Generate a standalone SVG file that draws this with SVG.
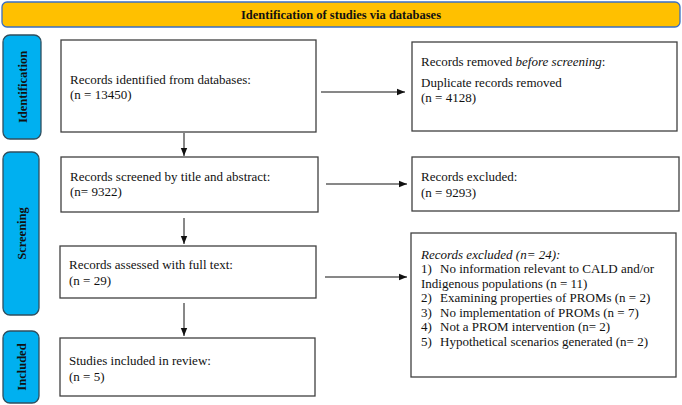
<svg xmlns="http://www.w3.org/2000/svg" width="682" height="405" viewBox="0 0 682 405">
<style>
.box{fill:#fff;stroke:#404040;stroke-width:1.3}
.bar{fill:#00B0F0;stroke:#2F4F5F;stroke-width:1.3}
.t{font-family:"Liberation Serif","Times New Roman",serif;font-size:13px;fill:#111}
.it{font-style:italic}
.b{font-family:"Liberation Serif","Times New Roman",serif;font-size:12.5px;font-weight:bold;fill:#111}
.c{stroke:#111;stroke-width:1;fill:none;marker-end:url(#ah)}
</style>
<defs>
<marker id="ah" markerUnits="userSpaceOnUse" markerWidth="8" markerHeight="8" viewBox="0 0 8 8" refX="8" refY="4" orient="auto">
<path d="M0,0.8 L8,4 L0,7.2 Z" fill="#111"/>
</marker>
</defs>
<g id="header">
<rect x="2" y="2" width="678" height="25" rx="5" fill="#FFC000" stroke="#3A6FC4" stroke-width="1.3"/>
<text class="b" x="341" y="19" text-anchor="middle">Identification of studies via databases</text>
</g>
<g id="phase-identification">
<rect class="bar" x="3" y="35" width="38" height="104" rx="7"/>
<text class="b" transform="translate(26.5,87) rotate(-90)" text-anchor="middle">Identification</text>
</g>
<g id="phase-screening">
<rect class="bar" x="3" y="152" width="36" height="163" rx="7"/>
<text class="b" transform="translate(25.5,233.5) rotate(-90)" text-anchor="middle">Screening</text>
</g>
<g id="phase-included">
<rect class="bar" x="3" y="331" width="36" height="72" rx="7"/>
<text class="b" transform="translate(25.5,367) rotate(-90)" text-anchor="middle">Included</text>
</g>
<g id="identified">
<rect class="box" x="61" y="40" width="255" height="92"/>
<text class="t" x="70" y="84">Records identified from databases:</text>
<text class="t" x="70" y="99">(n = 13450)</text>
</g>
<g id="removed">
<rect class="box" x="412" y="42" width="265" height="89"/>
<text class="t" x="421" y="66">Records removed <tspan class="it">before screening</tspan>:</text>
<text class="t" x="421" y="86.5">Duplicate records removed</text>
<text class="t" x="421" y="101.5">(n = 4128)</text>
</g>
<g id="screened">
<rect class="box" x="61" y="157" width="257" height="55"/>
<text class="t" x="70" y="181">Records screened by title and abstract:</text>
<text class="t" x="70" y="196">(n= 9322)</text>
</g>
<g id="excluded1">
<rect class="box" x="412" y="157" width="267" height="54"/>
<text class="t" x="421" y="181">Records excluded:</text>
<text class="t" x="421" y="197">(n = 9293)</text>
</g>
<g id="assessed">
<rect class="box" x="60" y="246" width="256" height="52"/>
<text class="t" x="69" y="269">Records assessed with full text:</text>
<text class="t" x="69" y="285">(n = 29)</text>
</g>
<g id="excluded2">
<rect class="box" x="411" y="233" width="265" height="144"/>
<text class="t it" x="421" y="259">Records excluded (n= 24):</text>
<text class="t" x="421" y="273">1)</text><text class="t" x="440" y="273">No information relevant to CALD and/or</text>
<text class="t" x="421" y="287.5">Indigenous populations (n = 11)</text>
<text class="t" x="421" y="302">2)</text><text class="t" x="440" y="302">Examining properties of PROMs (n = 2)</text>
<text class="t" x="421" y="316.5">3)</text><text class="t" x="440" y="316.5">No implementation of PROMs (n = 7)</text>
<text class="t" x="421" y="331">4)</text><text class="t" x="440" y="331">Not a PROM intervention (n= 2)</text>
<text class="t" x="421" y="345.5">5)</text><text class="t" x="440" y="345.5">Hypothetical scenarios generated (n= 2)</text>
</g>
<g id="included">
<rect class="box" x="60" y="338" width="255" height="58"/>
<text class="t" x="69" y="365">Studies included in review:</text>
<text class="t" x="69" y="381">(n = 5)</text>
</g>
<g id="connectors">
<line class="c" x1="321" y1="92" x2="405" y2="92"/>
<line class="c" x1="326" y1="184" x2="407" y2="184"/>
<line class="c" x1="325" y1="277" x2="407" y2="277"/>
<line class="c" x1="184" y1="133" x2="184" y2="156"/>
<line class="c" x1="184" y1="218" x2="184" y2="244"/>
<line class="c" x1="184" y1="303" x2="184" y2="336"/>
</g>
</svg>
